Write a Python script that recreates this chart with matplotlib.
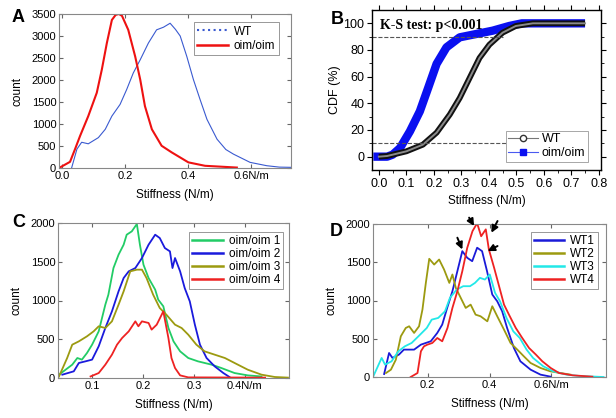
import matplotlib
matplotlib.use('Agg')
import matplotlib.pyplot as plt
from matplotlib.lines import Line2D

# panel A: histograms, WT vs oim/oim
a_wt_x = [0.03, 0.047, 0.062, 0.083, 0.115, 0.137, 0.158, 0.184, 0.205, 0.226, 0.248, 0.274, 0.30, 0.322,
          0.343, 0.36, 0.375, 0.396, 0.417, 0.438, 0.46, 0.492, 0.52, 0.544, 0.597, 0.65, 0.69, 0.727]
a_wt_y = [0, 430, 585, 550, 690, 880, 1180, 1445, 1784, 2160, 2460, 2840, 3140, 3200,
          3290, 3150, 3000, 2535, 2010, 1560, 1106, 655, 420, 316, 128, 52, 20, 15]
a_oim_x = [-0.01, 0.025, 0.041, 0.057, 0.083, 0.110, 0.126, 0.142, 0.158, 0.17, 0.18, 0.19, 0.21, 0.232,
           0.248, 0.263, 0.285, 0.316, 0.348, 0.401, 0.454, 0.555]
a_oim_y = [0, 140, 430, 730, 1180, 1710, 2235, 2840, 3365, 3480, 3500, 3460, 3140, 2535,
           2010, 1406, 880, 505, 355, 128, 50, 10]

# panel B: cumulative distributions (%)
b_wt_x = [0.0, 0.03, 0.10, 0.16, 0.21, 0.258, 0.294, 0.33, 0.366, 0.402, 0.45, 0.498, 0.56, 0.65, 0.75]
b_wt_y = [0, 0.5, 4, 9, 18, 31.6, 44, 59, 74, 84, 93, 98, 100, 100, 100]
b_oim_x = [-0.02, 0.03, 0.05, 0.077, 0.113, 0.149, 0.18, 0.21, 0.246, 0.294, 0.354, 0.414, 0.474, 0.52,
           0.6, 0.75]
b_oim_y = [0, 0, 1.5, 6.5, 19, 34, 52, 69.6, 82, 89.5, 92, 94.5, 98, 100, 100, 100]
b_ref_y = [90, 10]
b_ref_xmax = [0.45, 0.47]

# panel C: four oim/oim samples
c_x = [
    [0.035, 0.061, 0.071, 0.080, 0.090, 0.100, 0.113, 0.126, 0.132, 0.142, 0.152, 0.162, 0.168, 0.178, 0.188,
     0.194, 0.201, 0.211, 0.224, 0.230, 0.240, 0.250, 0.260, 0.273, 0.289, 0.308, 0.335, 0.354, 0.380, 0.406,
     0.433],
    [0.0415, 0.064, 0.074, 0.087, 0.100, 0.113, 0.126, 0.139, 0.152, 0.162, 0.172, 0.185, 0.198, 0.211, 0.224,
     0.233, 0.243, 0.253, 0.258, 0.263, 0.273, 0.282, 0.292, 0.302, 0.312, 0.325, 0.341, 0.358, 0.370],
    [0.035, 0.051, 0.061, 0.074, 0.090, 0.103, 0.113, 0.126, 0.139, 0.152, 0.162, 0.175, 0.188, 0.198, 0.207,
     0.220, 0.233, 0.246, 0.263, 0.276, 0.289, 0.305, 0.321, 0.341, 0.361, 0.380, 0.406, 0.433, 0.459, 0.485],
    [0.097, 0.113, 0.126, 0.139, 0.149, 0.159, 0.172, 0.185, 0.191, 0.198, 0.211, 0.217, 0.227, 0.24, 0.250,
     0.256, 0.263, 0.273, 0.289, 0.44],
]
c_y = [
    [43, 172, 258, 237, 323, 430, 602, 946, 1075, 1419, 1591, 1720, 1849, 1892, 1987,
     1720, 1462, 1290, 1140, 1011, 925, 645, 473, 344, 258, 215, 172, 129, 64, 34,
     20],
    [43, 86, 194, 215, 237, 409, 645, 860, 1118, 1290, 1376, 1419, 1548, 1720, 1849,
     1806, 1677, 1634, 1419, 1548, 1376, 1161, 989, 688, 430, 258, 150, 64, 13],
    [20, 258, 430, 473, 538, 602, 667, 645, 731, 946, 1118, 1376, 1398, 1398, 1290,
     1075, 903, 817, 688, 645, 559, 430, 344, 301, 258, 194, 107, 43, 13, 5],
    [20, 64, 172, 301, 430, 516, 602, 731, 667, 731, 710, 624, 688, 860, 516,
     258, 129, 34, 8, 5],
]
c_labels = ["oim/oim 1", "oim/oim 2", "oim/oim 3", "oim/oim 4"]

# panel D: four WT samples
d_x = [
    [0.059, 0.075, 0.086, 0.107, 0.123, 0.156, 0.178, 0.210, 0.231, 0.247, 0.263, 0.280, 0.296, 0.312, 0.328,
     0.344, 0.360, 0.376, 0.392, 0.409, 0.425, 0.441, 0.457, 0.479, 0.50, 0.533, 0.565, 0.597],
    [0.065, 0.081, 0.097, 0.113, 0.129, 0.140, 0.156, 0.172, 0.183, 0.194, 0.205, 0.221, 0.237, 0.253, 0.270,
     0.28, 0.291, 0.307, 0.323, 0.339, 0.355, 0.371, 0.393, 0.409, 0.425, 0.447, 0.468, 0.49, 0.511, 0.533,
     0.565, 0.597, 0.63, 0.662],
    [0.024, 0.051, 0.062, 0.083, 0.105, 0.126, 0.148, 0.170, 0.197, 0.213, 0.234, 0.256, 0.272, 0.294, 0.315,
     0.337, 0.353, 0.369, 0.385, 0.401, 0.418, 0.434, 0.455, 0.477, 0.498, 0.52, 0.541, 0.574, 0.606, 0.649,
     0.692, 0.769],
    [0.145, 0.167, 0.178, 0.188, 0.199, 0.215, 0.231, 0.247, 0.264, 0.280, 0.296, 0.312, 0.328, 0.345, 0.360,
     0.373, 0.388, 0.398, 0.415, 0.431, 0.447, 0.463, 0.485, 0.506, 0.528, 0.55, 0.571, 0.598, 0.625, 0.669,
     0.733],
]
d_y = [
    [39, 314, 249, 293, 358, 358, 423, 467, 576, 685, 903, 1121, 1383, 1645, 1558,
     1514, 1690, 1645, 1383, 1078, 990, 859, 641, 379, 205, 96, 31, 5],
    [52, 96, 227, 532, 641, 663, 576, 663, 881, 1230, 1545, 1470, 1536, 1405, 1230,
     1340, 1165, 1034, 903, 946, 815, 794, 728, 925, 794, 619, 445, 358, 271, 183,
     118, 74, 52, 31],
    [9, 249, 162, 205, 336, 401, 445, 532, 641, 750, 772, 859, 1034, 1143, 1187,
     1187, 1230, 1296, 1274, 1340, 1099, 990, 772, 597, 510, 358, 249, 140, 74, 31,
     13, 0],
    [0, 52, 336, 401, 423, 445, 510, 467, 641, 903, 1121, 1383, 1689, 1907, 2010,
     1840, 1930, 1667, 1427, 1187, 946, 815, 641, 510, 379, 293, 205, 118, 52, 22,
     4],
]
d_labels = ["WT1", "WT2", "WT3", "WT4"]
# arrows (tail x, tail y, head x, head y)
d_arrows = [(0.334, 2083, 0.350, 1974), (0.426, 2039, 0.406, 1886),
            (0.296, 1821, 0.312, 1667), (0.426, 1712, 0.394, 1646)]

plt.rcParams['font.family'] = ['Liberation Sans', 'DejaVu Sans']
plt.rcParams.update({'font.size': 8})
plt.rcParams.update({'axes.linewidth': 0.8})

fig = plt.figure(figsize=(6.16, 4.18), dpi=100)
W, H = 616.0, 418.0


def add_axes(l, t, r, b):
    return fig.add_axes([l / W, 1 - b / H, (r - l) / W, (b - t) / H])


def matlab_style(ax):
    for s in ax.spines.values():
        s.set_color('#888888')
    ax.tick_params(direction='in', top=True, right=True, length=3, color='#666666', labelsize=8, pad=2)


# ---- A
axA = add_axes(59, 14, 291, 168)
axA.plot(a_wt_x, a_wt_y, color='#3a5ad0', linewidth=0.8, label='WT')
axA.plot(a_oim_x, a_oim_y, color='#ee1111', linewidth=1.5, label='oim/oim')
axA.set_xlim(-0.01, 0.727)
axA.set_ylim(0, 3500)
axA.set_xticks([0, 0.2, 0.4, 0.6])
axA.set_xticklabels(['0.0', '0.2', '0.4', '0.6N/m'])
axA.set_yticks(range(0, 3501, 500))
matlab_style(axA)
axA.set_xlabel('Stiffness (N/m)', fontsize=8.5, labelpad=6)
axA.set_ylabel('count', fontsize=8.5, labelpad=6)
hA = [Line2D([], [], color='#3a5ad0', linestyle=':', linewidth=1.5),
      Line2D([], [], color='#ee1111', linewidth=1.8)]
legA = axA.legend(hA, ['WT', 'oim/oim'], loc='upper right', bbox_to_anchor=(1 - 12 / 232, 1 - 8 / 154),
                  borderaxespad=0, fontsize=8.5, handlelength=2.6, fancybox=False, framealpha=1,
                  borderpad=0.3, labelspacing=0.2, handletextpad=0.5)
legA.get_frame().set_edgecolor('#888888')
legA.get_frame().set_linewidth(0.6)
fig.text(12 / W, 1 - 18 / H, 'A', fontsize=13, fontweight='bold', va='center')

# ---- B
axB = add_axes(372, 10, 601, 170)
axB.plot(b_oim_x, b_oim_y, color='#0a10f0', linewidth=6, solid_capstyle='butt', solid_joinstyle='round')
axB.plot(b_wt_x, b_wt_y, color='#111111', linewidth=4.2, solid_capstyle='butt', solid_joinstyle='round')
axB.plot(b_wt_x, b_wt_y, color='#8a8a8a', linewidth=1.4, solid_joinstyle='round')
for yv, xm in zip(b_ref_y, b_ref_xmax):
    axB.plot([-0.025, xm], [yv, yv], color='#555555', linestyle='--', linewidth=0.8)
axB.set_xlim(-0.025, 0.808)
axB.set_ylim(-10, 110)
axB.set_xticks([i / 10 for i in range(9)])
axB.set_xticklabels([f'{i / 10:.1f}' for i in range(9)])
axB.set_yticks(range(0, 101, 20))
axB.set_xticks([i / 10 + 0.05 for i in range(8)], minor=True)
axB.set_yticks(range(10, 101, 20), minor=True)
axB.tick_params(which='major', direction='out', length=3.5, labelsize=9, pad=2)
axB.tick_params(which='minor', direction='out', length=2)
axB.tick_params(which='both', top=True, right=True, labeltop=False, labelright=False)
axB.spines[:].set_linewidth(1.0)
axB.set_xlabel('Stiffness (N/m)', fontsize=8.5, labelpad=4)
axB.set_ylabel('CDF (%)', fontsize=9, labelpad=2)
axB.text(0.035, 0.9, 'K-S test: p<0.001', transform=axB.transAxes, fontsize=10, fontweight='bold',
         family=['Liberation Serif', 'DejaVu Serif'], va='center')
hB = [Line2D([], [], color='#777777', linewidth=0.8, marker='o', markerfacecolor='white',
             markeredgecolor='#333333', markersize=4.5),
      Line2D([], [], color='#4a5af0', linewidth=0.8, marker='s', markerfacecolor='#0a10f0',
             markeredgecolor='#0a10f0', markersize=4)]
legB = axB.legend(hB, ['WT', 'oim/oim'], loc='lower right', bbox_to_anchor=(1 - 13 / 229, 8 / 160),
                  borderaxespad=0, fontsize=9, handlelength=2.4, fancybox=False, framealpha=1,
                  borderpad=0.2, labelspacing=0.2, handletextpad=0.3)
legB.get_frame().set_edgecolor('#999999')
legB.get_frame().set_linewidth(0.6)
fig.text(331 / W, 1 - 20 / H, 'B', fontsize=13, fontweight='bold', va='center')

# ---- C
c_colors = ['#22cc66', '#1a1adc', '#9c9a10', '#ee2222']
axC = add_axes(58, 223, 289, 378)
for xs, ys, col, lab in zip(c_x, c_y, c_colors, c_labels):
    axC.plot(xs, ys, color=col, linewidth=1.3, label=lab)
axC.set_xlim(0.033, 0.487)
axC.set_ylim(0, 2000)
axC.set_xticks([0.1, 0.2, 0.3, 0.4])
axC.set_xticklabels(['0.1', '0.2', '0.3', '0.4N/m'])
axC.set_yticks(range(0, 2001, 500))
matlab_style(axC)
axC.set_xlabel('Stiffness (N/m)', fontsize=8.5, labelpad=6)
axC.set_ylabel('count', fontsize=8.5, labelpad=6)
legC = axC.legend(loc='upper right', bbox_to_anchor=(1 - 6 / 231, 1 - 9 / 155), borderaxespad=0,
                  fontsize=8.5, handlelength=2.6, fancybox=False, framealpha=1,
                  borderpad=0.25, labelspacing=0.1, handletextpad=0.5)
legC.get_frame().set_edgecolor('#888888')
legC.get_frame().set_linewidth(0.6)
for ln in legC.get_lines():
    ln.set_linewidth(1.8)
fig.text(12 / W, 1 - 223 / H, 'C', fontsize=13, fontweight='bold', va='center')

# ---- D
d_colors = ['#1a1ad8', '#9c9a10', '#22e8e8', '#ee2222']
axD = add_axes(373, 224, 606, 377)
for xs, ys, col, lab in zip(d_x, d_y, d_colors, d_labels):
    axD.plot(xs, ys, color=col, linewidth=1.3, label=lab)
for tx, ty, hx, hy in d_arrows:
    axD.annotate('', xy=(hx, hy), xytext=(tx, ty), annotation_clip=False,
                 arrowprops=dict(arrowstyle='-|>', color='black', lw=1.4, mutation_scale=10,
                                 shrinkA=0, shrinkB=0))
axD.set_xlim(0.023, 0.777)
axD.set_ylim(0, 2000)
axD.set_xticks([0.2, 0.4, 0.6])
axD.set_xticklabels(['0.2', '0.4', '0.6N/m'])
axD.set_yticks(range(0, 2001, 500))
matlab_style(axD)
axD.set_xlabel('Stiffness (N/m)', fontsize=8.5, labelpad=6)
axD.set_ylabel('count', fontsize=8.5, labelpad=6)
legD = axD.legend(loc='upper right', bbox_to_anchor=(1 - 8 / 233, 1 - 8 / 153), borderaxespad=0,
                  fontsize=8.5, handlelength=2.6, fancybox=False, framealpha=1,
                  borderpad=0.25, labelspacing=0.1, handletextpad=0.5)
legD.get_frame().set_edgecolor('#888888')
legD.get_frame().set_linewidth(0.6)
for ln in legD.get_lines():
    ln.set_linewidth(1.8)
fig.text(330 / W, 1 - 232 / H, 'D', fontsize=13, fontweight='bold', va='center')

fig.savefig('out.png', dpi=100)
